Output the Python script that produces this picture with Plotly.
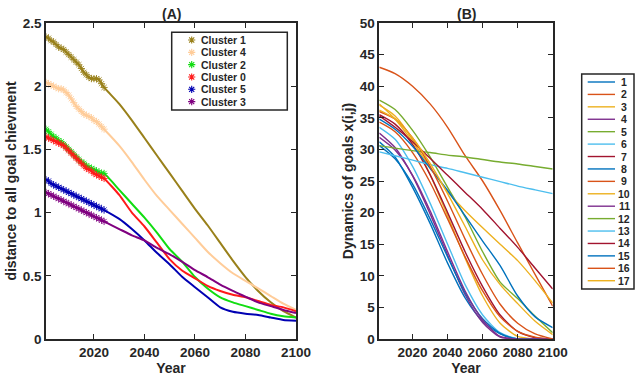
import plotly.graph_objects as go

W, H = 641, 377

# ---------------- Panel A data ----------------
years_obs = list(range(2001, 2025))
years_proj = list(range(2030, 2101, 5))

cluster_names = ["Cluster 1", "Cluster 4", "Cluster 2", "Cluster 0", "Cluster 5", "Cluster 3"]
cluster_colors = ["#99801A", "#FFCC99", "#11DD11", "#FF1A1A", "#0000B3", "#800080"]

obs_c1 = [2.39, 2.38, 2.36, 2.35, 2.33, 2.31, 2.30, 2.29, 2.27, 2.25, 2.23, 2.21,
          2.19, 2.17, 2.14, 2.11, 2.09, 2.07, 2.06, 2.06, 2.06, 2.05, 2.02, 1.99]
obs_c4 = [2.03, 2.02, 2.01, 2.00, 1.99, 1.98, 1.98, 1.97, 1.95, 1.93, 1.90, 1.87,
          1.84, 1.82, 1.80, 1.78, 1.77, 1.76, 1.75, 1.73, 1.72, 1.70, 1.68, 1.66]
obs_c2 = [1.66, 1.64, 1.62, 1.60, 1.59, 1.57, 1.56, 1.54, 1.52, 1.50, 1.48, 1.46,
          1.44, 1.42, 1.40, 1.39, 1.37, 1.36, 1.35, 1.34, 1.33, 1.32, 1.31, 1.31]
obs_c0 = [1.60, 1.59, 1.58, 1.57, 1.56, 1.55, 1.54, 1.53, 1.51, 1.49, 1.47, 1.45,
          1.43, 1.41, 1.39, 1.37, 1.35, 1.34, 1.33, 1.31, 1.30, 1.29, 1.28, 1.27]
obs_c5 = [1.26, 1.25, 1.23, 1.22, 1.21, 1.20, 1.19, 1.18, 1.17, 1.16, 1.15, 1.14,
          1.13, 1.12, 1.11, 1.10, 1.09, 1.08, 1.07, 1.06, 1.05, 1.04, 1.03, 1.02]
obs_c3 = [1.16, 1.15, 1.14, 1.13, 1.12, 1.11, 1.10, 1.09, 1.08, 1.07, 1.06, 1.05,
          1.04, 1.03, 1.02, 1.01, 1.00, 0.99, 0.98, 0.97, 0.96, 0.95, 0.94, 0.93]

proj_c1 = [1.86, 1.73, 1.59, 1.45, 1.31, 1.17, 1.03, 0.90, 0.76, 0.62, 0.49, 0.38, 0.29, 0.22, 0.17]
proj_c4 = [1.53, 1.40, 1.26, 1.13, 1.02, 0.91, 0.80, 0.69, 0.60, 0.52, 0.46, 0.40, 0.34, 0.28, 0.23]
proj_c2 = [1.18, 1.07, 0.96, 0.84, 0.71, 0.61, 0.49, 0.40, 0.33, 0.29, 0.26, 0.23, 0.20, 0.18, 0.17]
proj_c0 = [1.14, 1.00, 0.89, 0.76, 0.63, 0.54, 0.48, 0.42, 0.38, 0.35, 0.33, 0.30, 0.27, 0.25, 0.22]
proj_c5 = [0.95, 0.87, 0.78, 0.68, 0.59, 0.49, 0.41, 0.33, 0.25, 0.215, 0.20, 0.19, 0.17, 0.15, 0.145]
proj_c3 = [0.87, 0.82, 0.78, 0.72, 0.67, 0.61, 0.545, 0.49, 0.43, 0.38, 0.335, 0.29, 0.26, 0.23, 0.205]

obs_all = [obs_c1, obs_c4, obs_c2, obs_c0, obs_c5, obs_c3]
proj_all = [proj_c1, proj_c4, proj_c2, proj_c0, proj_c5, proj_c3]

# ---------------- Panel B data ----------------
years_b = [2001, 2010, 2020, 2030, 2040, 2050, 2060, 2070, 2080, 2090, 2100]
goal_names = [str(i) for i in range(1, 18)]
matlab_colors = ["#0072BD", "#D95319", "#EDB120", "#7E2F8E", "#77AC30", "#4DBEEE", "#A2142F"]

g1 = [31.2, 28.8, 24.0, 18.3, 12.0, 6.5, 2.8, 0.8, 0.0, 0.0, 0.0]
g2 = [43.0, 42.0, 40.0, 37.2, 33.5, 29.0, 25.0, 20.3, 15.2, 10.2, 5.2]
g3 = [37.0, 35.3, 31.5, 26.0, 19.5, 12.8, 6.8, 2.5, 0.4, 0.0, 0.0]
g4 = [32.6, 30.3, 25.8, 19.8, 13.3, 7.0, 2.6, 0.3, 0.0, 0.0, 0.0]
g5 = [37.8, 36.3, 33.0, 28.8, 24.0, 19.3, 13.8, 9.0, 6.4, 3.6, 1.0]
g6 = [33.5, 31.6, 27.3, 21.5, 15.0, 8.6, 3.8, 1.0, 0.0, 0.0, 0.0]
g7 = [35.5, 34.0, 30.8, 26.0, 20.0, 13.8, 8.3, 3.8, 1.2, 0.2, 0.0]
g8 = [30.6, 28.5, 24.5, 19.0, 13.0, 7.3, 3.2, 0.9, 0.0, 0.0, 0.0]
g9 = [34.3, 32.8, 29.5, 24.8, 19.0, 13.0, 7.6, 3.5, 1.2, 0.3, 0.0]
g10 = [37.2, 34.8, 31.2, 27.2, 23.3, 20.3, 17.6, 15.0, 12.4, 9.2, 5.7]
g11 = [31.9, 29.9, 25.9, 20.3, 13.8, 7.6, 3.0, 0.4, 0.0, 0.0, 0.0]
g12 = [30.6, 30.2, 29.8, 29.5, 29.1, 28.8, 28.4, 28.0, 27.7, 27.3, 26.9]
g13 = [29.6, 29.0, 28.3, 27.6, 27.0, 26.3, 25.6, 24.9, 24.2, 23.6, 23.0]
g14 = [35.3, 33.5, 31.2, 28.6, 25.9, 23.2, 20.5, 17.5, 14.5, 11.2, 7.9]
g15 = [34.8, 33.2, 30.5, 27.0, 23.5, 19.5, 15.5, 11.6, 6.8, 3.5, 1.8]
g16 = [36.0, 34.8, 31.8, 27.3, 21.8, 15.8, 10.2, 5.5, 2.5, 0.8, 0.0]
g17 = [36.2, 34.8, 31.8, 27.8, 23.0, 17.8, 12.5, 8.6, 5.6, 2.8, 0.7]
goals_all = [g1, g2, g3, g4, g5, g6, g7, g8, g9, g10, g11, g12, g13, g14, g15, g16, g17]

# ticks
xticks = [2020, 2040, 2060, 2080, 2100]
yticks_a = [0, 0.5, 1, 1.5, 2, 2.5]
yticks_a_text = ["0", "0.5", "1", "1.5", "2", "2.5"]
yticks_b = list(range(0, 51, 5))

FONT = "Liberation Sans, Arial, Helvetica, sans-serif"
AXC = "#262626"

fig = go.Figure()

# Panel A
for name, col, obs, proj in zip(cluster_names, cluster_colors, obs_all, proj_all):
    fig.add_trace(go.Scatter(x=years_obs + years_proj, y=obs + proj, mode="lines",
                             line=dict(color=col, width=2, shape="spline", smoothing=0.5),
                             xaxis="x", yaxis="y", showlegend=False, hoverinfo="skip"))
    fig.add_trace(go.Scatter(x=years_obs, y=obs, mode="markers",
                             marker=dict(symbol="asterisk-open", size=6, color=col,
                                         line=dict(color=col, width=0.9)),
                             xaxis="x", yaxis="y", showlegend=False, hoverinfo="skip"))

# Panel B
for i, (name, vals) in enumerate(zip(goal_names, goals_all)):
    fig.add_trace(go.Scatter(x=years_b, y=vals, mode="lines",
                             line=dict(color=matlab_colors[i % 7], width=1.4, shape="spline", smoothing=0.7),
                             xaxis="x2", yaxis="y2", showlegend=False, hoverinfo="skip"))

# ---------------- manual legends on a pixel overlay axis ----------------
shapes = []
annotations = []

# legend A
la_box = (171.7, 32.3, 287.3, 110.0)
shapes.append(dict(type="rect", xref="x3", yref="y3", x0=la_box[0], y0=la_box[1], x1=la_box[2], y1=la_box[3],
                   line=dict(color=AXC, width=1.5), fillcolor="white", layer="below"))
for i, (name, col) in enumerate(zip(cluster_names, cluster_colors)):
    yy = 40.0 + i * 12.33
    fig.add_trace(go.Scatter(x=[191.7], y=[yy], mode="markers",
                             marker=dict(symbol="asterisk-open", size=6, color=col, line=dict(color=col, width=1.1)),
                             xaxis="x3", yaxis="y3", showlegend=False, hoverinfo="skip"))
    annotations.append(dict(x=199.0, y=yy, xref="x3", yref="y3", text="<b>%s</b>" % name, showarrow=False,
                            xanchor="left", yanchor="middle", font=dict(family=FONT, size=10.5, color=AXC)))

# legend B
lb_box = (581.7, 74.0, 634.0, 289.0)
shapes.append(dict(type="rect", xref="x3", yref="y3", x0=lb_box[0], y0=lb_box[1], x1=lb_box[2], y1=lb_box[3],
                   line=dict(color=AXC, width=1.5), fillcolor="white", layer="below"))
for i, name in enumerate(goal_names):
    yy = 82.0 + i * 12.42
    fig.add_trace(go.Scatter(x=[587.7, 615.0], y=[yy, yy], mode="lines",
                             line=dict(color=matlab_colors[i % 7], width=1.4),
                             xaxis="x3", yaxis="y3", showlegend=False, hoverinfo="skip"))
    annotations.append(dict(x=624.0, y=yy, xref="x3", yref="y3", text="<b>%s</b>" % name, showarrow=False,
                            xanchor="center", yanchor="middle", font=dict(family=FONT, size=10.5, color=AXC)))

# panel titles
annotations.append(dict(x=171 / W, y=1 - 14 / H, xref="paper", yref="paper", text="<b>(A)</b>", showarrow=False,
                        xanchor="center", yanchor="middle", font=dict(family=FONT, size=14, color=AXC)))
annotations.append(dict(x=466 / W, y=1 - 14 / H, xref="paper", yref="paper", text="<b>(B)</b>", showarrow=False,
                        xanchor="center", yanchor="middle", font=dict(family=FONT, size=14, color=AXC)))

tickfont = dict(family=FONT, size=13.5, color=AXC, weight="bold")
titlefont = dict(family=FONT, size=14, color=AXC, weight="bold")

common_x = dict(range=[2001, 2100], tickvals=xticks, ticks="inside", ticklen=5, tickwidth=1.3,
                tickcolor=AXC, showline=True, linecolor=AXC, linewidth=1.5, mirror="ticks",
                showgrid=False, zeroline=False, tickfont=tickfont, automargin=False,
                title=dict(text="Year", font=titlefont, standoff=1))
common_y = dict(ticks="inside", ticklen=5, tickwidth=1.3, tickcolor=AXC, showline=True, linecolor=AXC,
                linewidth=1.5, mirror="ticks", showgrid=False, zeroline=False, tickfont=tickfont,
                automargin=False)

fig.update_layout(
    width=W, height=H,
    margin=dict(l=0, r=0, t=0, b=0),
    paper_bgcolor="white", plot_bgcolor="rgba(0,0,0,0)",
    showlegend=False,
    xaxis=dict(domain=[46 / W, 296 / W], anchor="y", **common_x),
    yaxis=dict(domain=[38 / H, 354 / H], anchor="x", range=[0, 2.5], tickvals=yticks_a, ticktext=yticks_a_text,
               title=dict(text="distance to all goal chievment", font=titlefont, standoff=3), **common_y),
    xaxis2=dict(domain=[379.3 / W, 552.7 / W], anchor="y2", **common_x),
    yaxis2=dict(domain=[38 / H, 354 / H], anchor="x2", range=[0, 50], tickvals=yticks_b,
                title=dict(text="Dynamics of goals x(i,j)", font=titlefont, standoff=3), **common_y),
    xaxis3=dict(domain=[0, 1], anchor="y3", range=[0, W], visible=False, fixedrange=True),
    yaxis3=dict(domain=[0, 1], anchor="x3", range=[H, 0], visible=False, fixedrange=True),
    shapes=shapes,
    annotations=annotations,
)

fig.write_html("out.html")
